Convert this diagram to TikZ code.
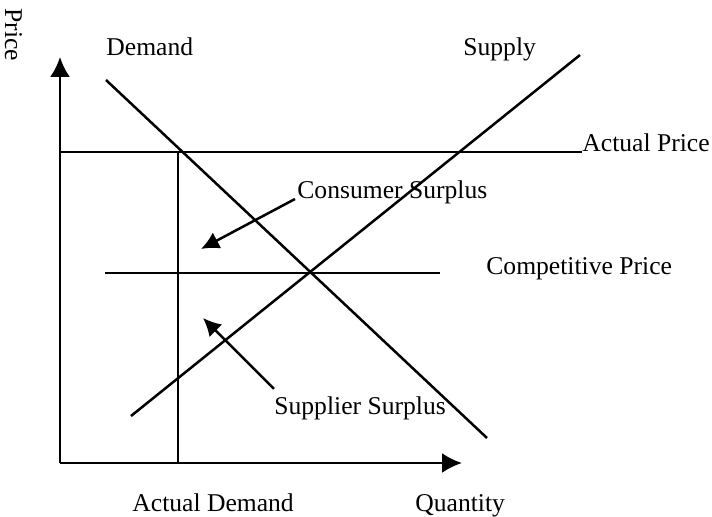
\documentclass[tikz,border=0pt]{standalone}
\usepackage{fontspec}
\setmainfont{Liberation Serif}
\usetikzlibrary{arrows.meta}

\begin{document}
\begin{tikzpicture}[x=0.5pt, y=-0.5pt, every node/.style={font=\fontsize{12.8}{15}\selectfont, inner sep=0pt}, curve/.style={line width=1.25pt}, axis/.style={-{Latex[length=10pt, width=10pt]}, line width=1.25pt}, pointer/.style={-{Latex[length=9pt, width=9pt]}, line width=1.25pt}]
\useasboundingbox (0,0) rectangle (712,517);
% axes
\coordinate (origin) at (60,463);
\coordinate (ytip) at (60,57);
\coordinate (xtip) at (462,463);
\draw[axis] (origin)--(ytip); \draw[axis] (origin)--(xtip);
\node[rotate=-90, anchor=base west] (price) at (5,8) {Price};
\node[anchor=base west] (quantity) at (415,512) {Quantity};
% labels
\node[anchor=base west] (demand) at (106,56) {Demand};
\node[anchor=base west] (supply) at (463,56) {Supply};
\node[anchor=base west] (actprice) at (582,152) {Actual Price};
\node[anchor=base west] (compprice) at (486,275) {Competitive Price};
\node[anchor=base west] (actdemand) at (132,512) {Actual Demand};
\node[anchor=base west] (consumer) at (297,199) {Consumer Surplus};
\node[anchor=base west] (supplier) at (274,415) {Supplier Surplus};
% curves
\coordinate (dstart) at (106,80); \coordinate (dend) at (487,438);
\coordinate (sstart) at (131,416); \coordinate (send) at (580,55);
\draw[curve] (dstart)--(dend); \draw[curve] (sstart)--(send);
% price and demand levels
\coordinate (apleft) at (60,152);
\coordinate (cpleft) at (105,273); \coordinate (cpright) at (440,273);
\coordinate (adtop) at (178,152); \coordinate (adbottom) at (178,463);
\draw[curve] (apleft)--(actprice.base west);
\draw[curve] (cpleft)--(cpright);
\draw[curve] (adtop)--(adbottom);
% surplus pointers
\coordinate (cstip) at (201,249); \coordinate (sstip) at (203,318);
\draw[pointer] ([xshift=-1pt]consumer.base west)--(cstip);
\draw[pointer] ([yshift=4pt]supplier.north west)--(sstip);
\end{tikzpicture}
\end{document}
